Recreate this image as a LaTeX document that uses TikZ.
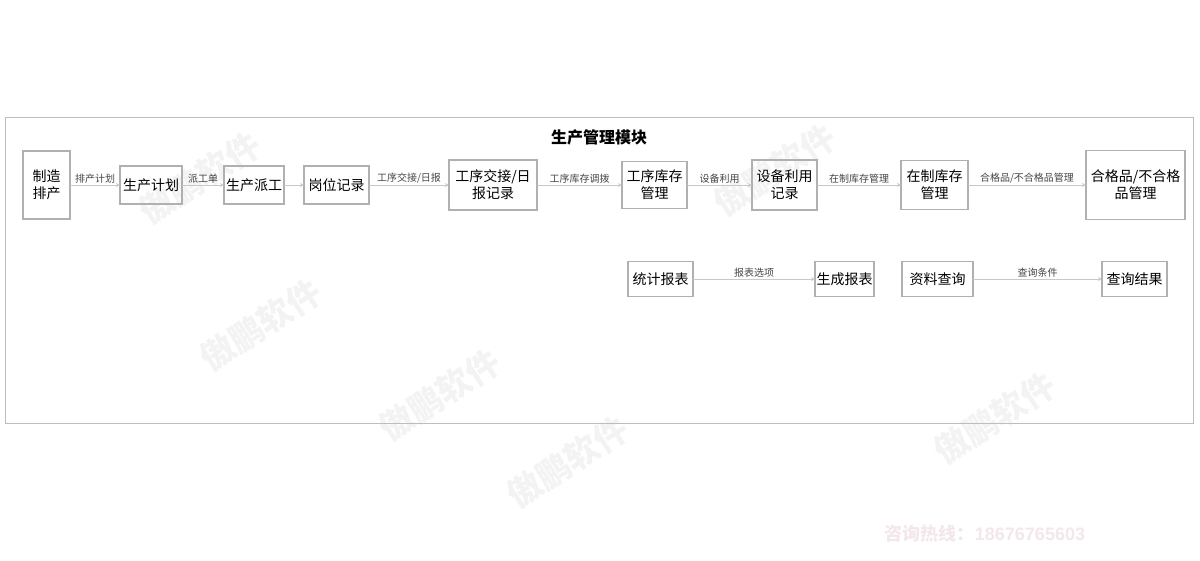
\documentclass[tikz,border=0pt]{standalone}
\usepackage{fontspec}
\setmainfont{Noto Sans CJK SC}
\newfontfamily\latinfont{Liberation Sans}
\usepackage{xcolor}
\usetikzlibrary{positioning}

\definecolor{boxgray}{HTML}{B0B0B0}
\definecolor{linegray}{HTML}{C8C8C8}
\definecolor{framegray}{HTML}{BDBDBD}
\definecolor{labelgray}{HTML}{444444}
\definecolor{markgray}{HTML}{F3F3F3}
\definecolor{markpink}{HTML}{F3E7EB}

\begin{document}
\begin{tikzpicture}[
    x=1pt, y=-1pt,
    block/.style={rectangle, draw=boxgray, line width=1.3pt, align=center, inner sep=0pt, outer sep=0pt, font=\fontsize{14}{17}\selectfont},
    arrow/.style={-stealth, draw=linegray, line width=0.8pt},
    edgelabel/.style={above, inner sep=1.5pt, text=labelgray, font=\fontsize{10}{11}\selectfont},
    watermark/.style={text=markgray, rotate=33, font=\fontsize{34}{36}\selectfont\bfseries}
]
\useasboundingbox (0,0) rectangle (1200,560);

% watermarks
\node[watermark] (wm1) at (200,178) {傲鹏软件};
\node[watermark] (wm2) at (775,170) {傲鹏软件};
\node[watermark] (wm3) at (261,325) {傲鹏软件};
\node[watermark] (wm4) at (440,395) {傲鹏软件};
\node[watermark] (wm5) at (568,462) {傲鹏软件};
\node[watermark] (wm6) at (995,418) {傲鹏软件};
\node[text=markpink, font=\fontsize{18}{20}\selectfont\bfseries] (hotline) at (985,534) {咨询热线：{\latinfont 18676765603}};

\draw[framegray, line width=1pt] (5,117) rectangle (1193,423);
\node[font=\fontsize{16}{18}\selectfont\bfseries] (title) at (599,137) {生产管理模块};

% main flow
\node[block, minimum width=47pt, minimum height=68pt] (make) at (46.5,185) {制造\\排产};
\node[block, minimum width=62pt, minimum height=38pt, right=50pt of make] (plan) {生产计划};
\node[block, minimum width=60pt, minimum height=38pt, right=42pt of plan] (dispatch) {生产派工};
\node[block, minimum width=65pt, minimum height=38pt, right=20pt of dispatch] (post) {岗位记录};
\node[block, minimum width=88pt, minimum height=50pt, right=80pt of post] (handover) {工序交接/日\\报记录};
\node[block, minimum width=65pt, minimum height=47pt, right=85pt of handover] (stock) {工序库存\\管理};
\node[block, minimum width=65pt, minimum height=50pt, right=65pt of stock] (equip) {设备利用\\记录};
\node[block, minimum width=67pt, minimum height=49pt, right=84pt of equip] (wip) {在制库存\\管理};
\node[block, minimum width=99pt, minimum height=69pt, right=118pt of wip] (quality) {合格品/不合格\\品管理};

% reports and queries
\node[block, minimum width=65pt, minimum height=35pt] (stat) at (660.5,279) {统计报表};
\node[block, minimum width=59pt, minimum height=35pt, right=122pt of stat] (report) {生成报表};
\node[block, minimum width=71pt, minimum height=35pt, right=28pt of report] (query) {资料查询};
\node[block, minimum width=65pt, minimum height=35pt, right=129pt of query] (result) {查询结果};

\draw[arrow] (make) -- node[edgelabel] {排产计划} (plan);
\draw[arrow] (plan) -- node[edgelabel] {派工单} (dispatch);
\draw[arrow] (dispatch) -- (post);
\draw[arrow] (post) -- node[edgelabel] {工序交接/日报} (handover);
\draw[arrow] (handover) -- node[edgelabel] {工序库存调拨} (stock);
\draw[arrow] (stock) -- node[edgelabel] {设备利用} (equip);
\draw[arrow] (equip) -- node[edgelabel] {在制库存管理} (wip);
\draw[arrow] (wip) -- node[edgelabel] {合格品/不合格品管理} (quality);
\draw[arrow] (stat) -- node[edgelabel] {报表选项} (report);
\draw[arrow] (query) -- node[edgelabel] {查询条件} (result);
\end{tikzpicture}
\end{document}
